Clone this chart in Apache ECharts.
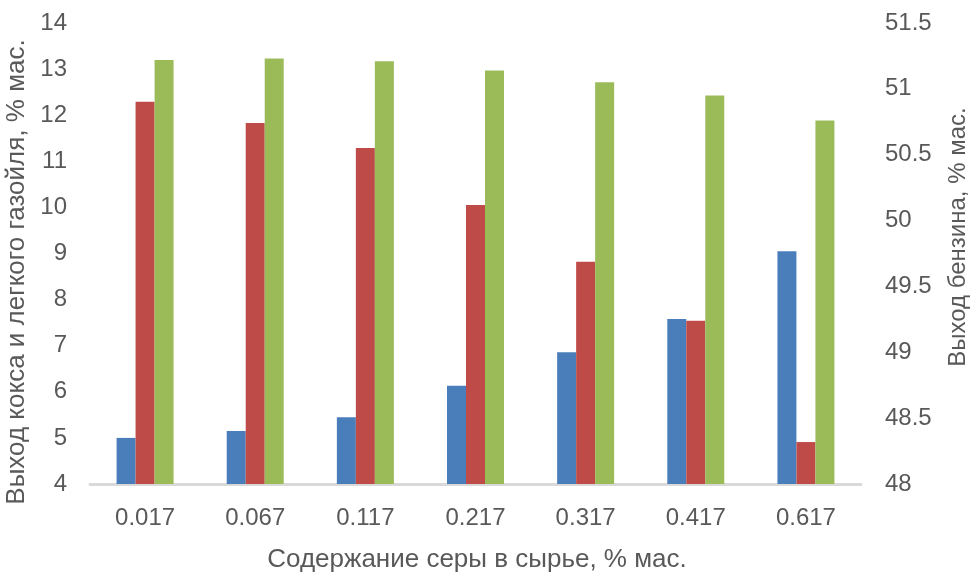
<!DOCTYPE html>
<html><head><meta charset="utf-8">
<script src="https://cdn.jsdelivr.net/npm/echarts@6/dist/echarts.min.js"></script>
<style>html,body{margin:0;padding:0;background:#fff}#c{width:973px;height:580px}</style>
</head><body><div id="c"></div>
<script>
const categories = ['0.017','0.067','0.117','0.217','0.317','0.417','0.617'];
const coke = [5.0, 5.15, 5.45, 6.13, 6.86, 7.58, 9.05];
const gasoil = [12.29, 11.83, 11.29, 10.05, 8.82, 7.54, 4.91];
const gasoline = [51.22, 51.23, 51.21, 51.14, 51.05, 50.95, 50.76];
const leftTicks = [4, 14, 1];
const rightTicks = [48, 51.5, 0.5];
const xTitle = 'Содержание серы в сырье, % мас.';
const leftTitle = 'Выход кокса и легкого газойля, % мас.';
const rightTitle = 'Выход бензина, % мас.';

const font = 'Liberation Sans, Arial, sans-serif';
const txt = '#595959';
const chart = echarts.init(document.getElementById('c'));
chart.setOption({
  animation: false,
  grid: {left: 90, right: 112, top: 23, bottom: 96},
  xAxis: {
    type: 'category', data: categories,
    axisLine: {lineStyle: {color: '#d9d9d9', width: 3}},
    axisTick: {show: false},
    axisLabel: {color: txt, fontSize: 24, fontFamily: font, margin: 22}
  },
  yAxis: [{
    type: 'value', min: leftTicks[0], max: leftTicks[1], interval: leftTicks[2],
    splitLine: {show: false}, axisLine: {show: false}, axisTick: {show: false},
    axisLabel: {color: txt, fontSize: 24, fontFamily: font, margin: 23}
  }, {
    type: 'value', min: rightTicks[0], max: rightTicks[1], interval: rightTicks[2],
    splitLine: {show: false}, axisLine: {show: false}, axisTick: {show: false},
    axisLabel: {color: txt, fontSize: 24, fontFamily: font, margin: 24}
  }],
  graphic: [
    {type: 'text', x: 477, y: 560, style: {text: xTitle, fill: txt, font: '26px ' + font, textAlign: 'center', textVerticalAlign: 'middle'}},
    {type: 'text', x: 17, y: 272, rotation: Math.PI / 2, style: {text: leftTitle, fill: txt, font: '26px ' + font, textAlign: 'center', textVerticalAlign: 'middle'}},
    {type: 'text', x: 958, y: 237, rotation: Math.PI / 2, style: {text: rightTitle, fill: txt, font: '24px ' + font, textAlign: 'center', textVerticalAlign: 'middle'}}
  ],
  series: [
    {type: 'bar', data: coke, yAxisIndex: 0, barWidth: 19, barGap: '0%', itemStyle: {color: '#4A7EBB'}},
    {type: 'bar', data: gasoil, yAxisIndex: 0, barWidth: 19, barGap: '0%', itemStyle: {color: '#BE4B48'}},
    {type: 'bar', data: gasoline, yAxisIndex: 1, barWidth: 19, barGap: '0%', itemStyle: {color: '#9BBB59'}}
  ]
});
</script></body></html>
